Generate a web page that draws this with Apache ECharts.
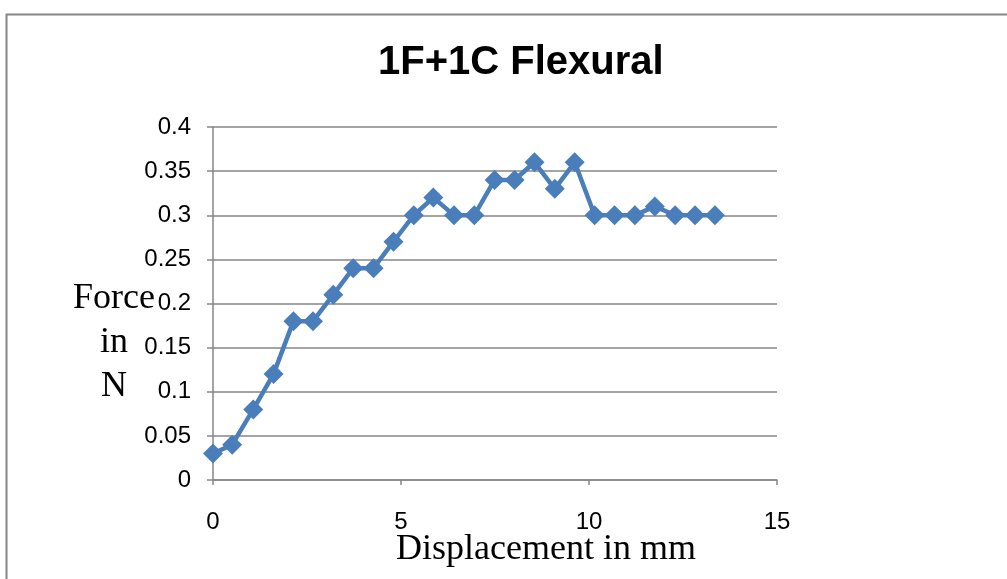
<!DOCTYPE html>
<html>
<head>
<meta charset="utf-8">
<script src="https://cdn.jsdelivr.net/npm/echarts@6/dist/echarts.min.js"></script>
<style>
html,body{margin:0;padding:0;background:#fff;}
#chart{width:1007px;height:579px;}
</style>
</head>
<body>
<div id="chart"></div>
<script>
const chartTitle = '1F+1C Flexural';
const xAxisTitle = 'Displacement in mm';
const yAxisTitle = 'Force\nin\nN';
const displacement = [0, 0.51, 1.07, 1.61, 2.14, 2.66, 3.20, 3.73, 4.27, 4.80, 5.34, 5.86, 6.41, 6.95, 7.49, 8.02, 8.55, 9.09, 9.62, 10.15, 10.68, 11.22, 11.75, 12.29, 12.82, 13.35];
const force = [0.03, 0.04, 0.08, 0.12, 0.18, 0.18, 0.21, 0.24, 0.24, 0.27, 0.30, 0.32, 0.30, 0.30, 0.34, 0.34, 0.36, 0.33, 0.36, 0.30, 0.30, 0.30, 0.31, 0.30, 0.30, 0.30];

const points = displacement.map((x, i) => [x, force[i]]);
const chart = echarts.init(document.getElementById('chart'));
const grey = '#868686';
chart.setOption({
  animation: false,
  backgroundColor: '#fff',
  graphic: [{
    type: 'rect', left: 4, top: 12, z: -10,
    shape: { width: 1100, height: 700 },
    style: { fill: 'none', stroke: grey, lineWidth: 2 }
  }, {
    type: 'text', x: 114, y: 277, z: 10,
    style: {
      text: yAxisTitle, fill: '#000', align: 'center', verticalAlign: 'top',
      font: '36px "Liberation Serif"', lineHeight: 44
    }
  }],
  title: {
    text: chartTitle, left: 373, top: 38,
    textStyle: { fontFamily: 'Liberation Sans', fontWeight: 'bold', fontSize: 40, color: '#000' }
  },
  grid: { left: 213, right: 230, top: 127, bottom: 99 },
  xAxis: {
    type: 'value', min: 0, max: 15, interval: 5,
    name: xAxisTitle, nameLocation: 'middle', nameGap: 52, nameMoveOverlap: false,
    nameTextStyle: { fontFamily: 'Liberation Serif', fontSize: 36, color: '#000', padding: [0, 0, 0, 102] },
    axisLine: { show: true, lineStyle: { color: grey, width: 1.5 } },
    axisTick: { show: true, length: 5, lineStyle: { color: grey, width: 1.5 } },
    axisLabel: { margin: 30, fontFamily: 'Liberation Sans', fontSize: 24, color: '#000' },
    splitLine: { show: false }
  },
  yAxis: {
    type: 'value', min: 0, max: 0.4, interval: 0.05,
    axisLine: { show: true, lineStyle: { color: grey, width: 1.5 } },
    axisTick: { show: true, length: 6, lineStyle: { color: grey, width: 1.5 } },
    axisLabel: { margin: 22, fontFamily: 'Liberation Sans', fontSize: 24, color: '#000' },
    splitLine: { show: true, lineStyle: { color: grey, width: 1.5 } }
  },
  series: [{
    type: 'line', data: points,
    lineStyle: { color: '#4a7ebb', width: 4.5 },
    itemStyle: { color: '#4a7ebb' },
    symbol: 'diamond', symbolSize: 20, showSymbol: true
  }]
});
</script>
</body>
</html>
